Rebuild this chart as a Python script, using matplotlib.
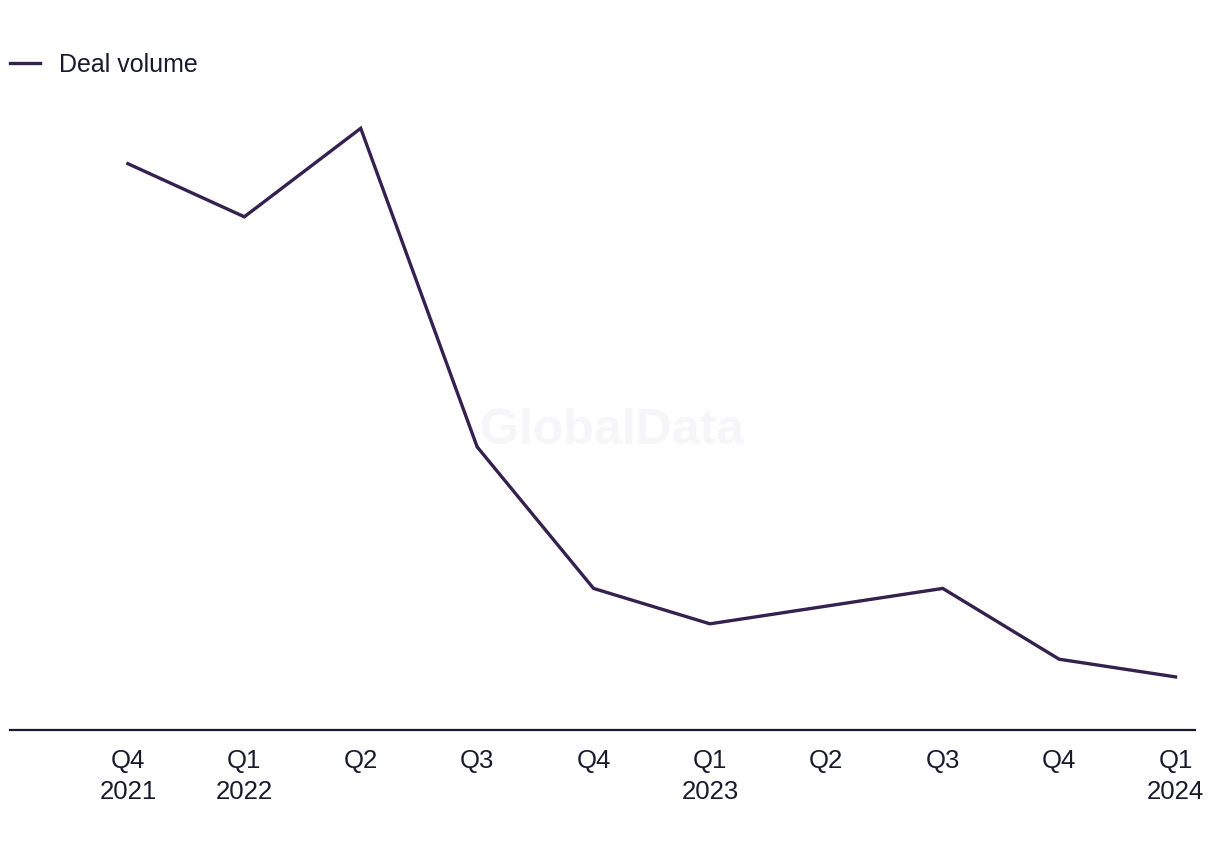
import matplotlib
matplotlib.use("Agg")
import matplotlib.pyplot as plt

quarters = ["Q4\n2021", "Q1\n2022", "Q2", "Q3", "Q4", "Q1\n2023", "Q2", "Q3", "Q4", "Q1\n2024"]
deal_volume = [32, 29, 34, 16, 8, 6, 7, 8, 4, 3]

plt.rcParams['font.family'] = ['Liberation Sans', 'DejaVu Sans']

fig = plt.figure(figsize=(12.2, 8.5), dpi=100)
ax = fig.add_axes([10/1220, 120/850, 1185/1220, 630/850])

x = list(range(len(quarters)))
line_color = "#35214f"
ax.plot(x, deal_volume, color=line_color, linewidth=2.4, label="Deal volume",
        solid_joinstyle="miter", zorder=3)

ax.set_xlim(-1.013, 9.167)
ax.set_ylim(0, 35.6)
ax.set_xticks(x)
ax.set_xticklabels(quarters, fontsize=18.5, color="#1a1a2e", linespacing=1.35)
ax.tick_params(axis="x", length=0, pad=14)
ax.set_yticks([])
for s in ["top", "right", "left"]:
    ax.spines[s].set_visible(False)
ax.spines["bottom"].set_color("#1a1a2e")
ax.spines["bottom"].set_linewidth(1.6)

ax.text(0.508, 0.475, "GlobalData", transform=ax.transAxes, fontsize=36,
        fontweight="bold", color="#f6f6f8", ha="center", va="center", zorder=1)

leg = fig.legend(loc="upper left", bbox_to_anchor=(0.0, 0.950), frameon=False,
                 fontsize=18, handlelength=1.2, handletextpad=0.75,
                 borderaxespad=0, borderpad=0.4)
for t in leg.get_texts():
    t.set_color("#1a1a2e")

fig.savefig("out.png", dpi=100, facecolor="white")
